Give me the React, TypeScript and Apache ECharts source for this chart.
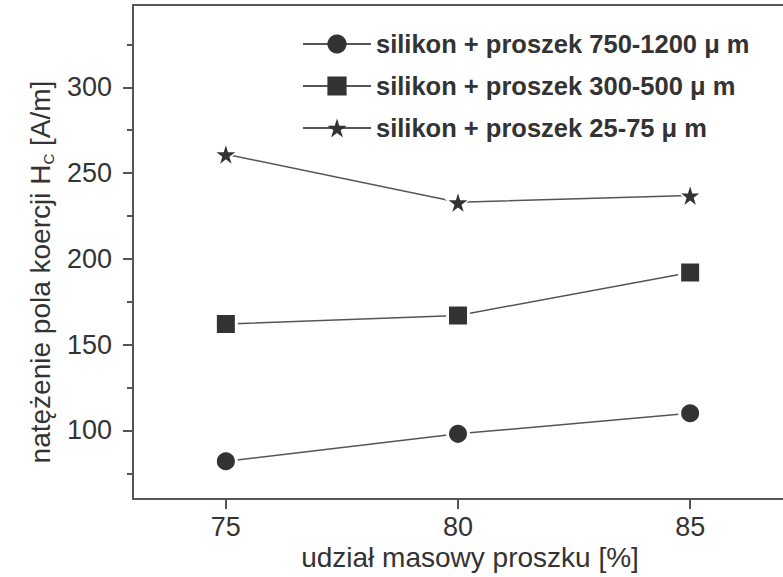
import React, { useEffect, useRef } from "react";
import * as echarts from "echarts";

const xValues = [75, 80, 85];
const coarse = [82, 98, 110]; // 750-1200 µm
const medium = [162, 167, 192]; // 300-500 µm
const fine = [261, 233, 237]; // 25-75 µm
const seriesNames = [
  "silikon + proszek 750-1200 \u03bc m",
  "silikon + proszek 300-500 \u03bc m",
  "silikon + proszek 25-75 \u03bc m",
];
const xTicks = [75, 80, 85];
const yTicks = [100, 150, 200, 250, 300];
const yMinorTicks = [75, 125, 175, 225, 275, 325];

const STAR =
  "path://M50 0 L61.23 34.55 L97.55 34.55 L68.17 55.9 L79.39 90.45 L50 69.1 L20.61 90.45 L31.83 55.9 L2.45 34.55 L38.77 34.55 Z";

const FONT = "'Liberation Sans', Arial, Helvetica, sans-serif";
const TEXT = "#333";
const AXIS = "#555";

export default function App() {
  const ref = useRef<HTMLDivElement>(null);
  useEffect(() => {
    if (!ref.current) return;
    const chart = echarts.init(ref.current, null, { renderer: "svg" });
    const mk = (
      name: string,
      vals: number[],
      symbol: string,
      size: number,
      border: number
    ) => ({
      name,
      type: "line",
      xAxisIndex: 0,
      yAxisIndex: 0,
      data: xValues.map((x, i) => [x, vals[i]]),
      symbol,
      symbolSize: size,
      showAllSymbol: true,
      lineStyle: { color: "#555", width: 1.5 },
      itemStyle: { color: "#333", borderColor: "#fff", borderWidth: border },
      emphasis: { disabled: true },
    });
    chart.setOption({
      animation: false,
      textStyle: { fontFamily: FONT },
      grid: { left: 133, right: 0, top: 5, bottom: 78, containLabel: false },
      legend: {
        orient: "vertical",
        left: 297,
        top: 26,
        padding: 5,
        itemWidth: 68,
        itemHeight: 24,
        itemGap: 16,
        selectedMode: false,
        itemStyle: { borderWidth: 0 },
        textStyle: {
          fontFamily: FONT,
          fontSize: 25.5,
          fontWeight: "bold",
          color: TEXT,
          lineHeight: 24,
        },
        data: seriesNames,
      },
      xAxis: [
        {
          type: "value",
          min: 73,
          max: 87,
          axisLine: { show: true, lineStyle: { color: AXIS, width: 2 } },
          axisTick: {
            show: true,
            customValues: xTicks,
            length: 10,
            lineStyle: { color: AXIS, width: 2 },
          },
          axisLabel: {
            customValues: xTicks,
            margin: 14,
            fontSize: 27,
            color: TEXT,
            fontFamily: FONT,
          },
          splitLine: { show: false },
        },
        {
          type: "value",
          position: "top",
          min: 73,
          max: 87,
          axisLine: { show: true, lineStyle: { color: AXIS, width: 2 } },
          axisTick: { show: false },
          axisLabel: { show: false },
          splitLine: { show: false },
        },
      ],
      yAxis: [
        {
          type: "value",
          min: 60,
          max: 348,
          axisLine: { show: true, lineStyle: { color: AXIS, width: 2 } },
          axisTick: {
            show: true,
            customValues: yTicks,
            length: 10,
            lineStyle: { color: AXIS, width: 2 },
          },
          axisLabel: {
            customValues: yTicks,
            margin: 21,
            fontSize: 27,
            color: TEXT,
            fontFamily: FONT,
          },
          splitLine: { show: false },
        },
        {
          type: "value",
          position: "left",
          min: 60,
          max: 348,
          axisLine: { show: false },
          axisTick: {
            show: true,
            customValues: yMinorTicks,
            length: 6,
            lineStyle: { color: AXIS, width: 2 },
          },
          axisLabel: { show: false },
          splitLine: { show: false },
        },
      ],
      graphic: [
        {
          type: "text",
          x: 40,
          y: 272,
          rotation: Math.PI / 2,
          style: {
            text: "nat\u0119\u017cenie pola koercji H{sub|C} [A/m]",
            font: `28px ${FONT}`,
            fontSize: 28,
            fontFamily: FONT,
            fill: TEXT,
            lineHeight: 32,
            align: "center",
            verticalAlign: "middle",
            textAlign: "center",
            textVerticalAlign: "middle",
            rich: {
              sub: {
                fontSize: 15,
                fontFamily: FONT,
                fill: TEXT,
                lineHeight: 13,
                verticalAlign: "bottom",
              },
            },
          },
        },
        {
          type: "text",
          x: 470,
          y: 557,
          style: {
            text: "udzia\u0142 masowy proszku [%]",
            font: `28px ${FONT}`,
            fontSize: 28,
            fontFamily: FONT,
            fill: TEXT,
            align: "center",
            verticalAlign: "middle",
            textAlign: "center",
            textVerticalAlign: "middle",
          },
        },
      ],
      series: [
        mk(seriesNames[0], coarse, "circle", 21, 3),
        mk(seriesNames[1], medium, "rect", 21, 3),
        mk(seriesNames[2], fine, STAR, 23, 1.5),
      ],
    });
    return () => chart.dispose();
  }, []);
  return (
    <div
      ref={ref}
      style={{ position: "absolute", left: 0, top: 0, width: 783, height: 577 }}
    />
  );
}
